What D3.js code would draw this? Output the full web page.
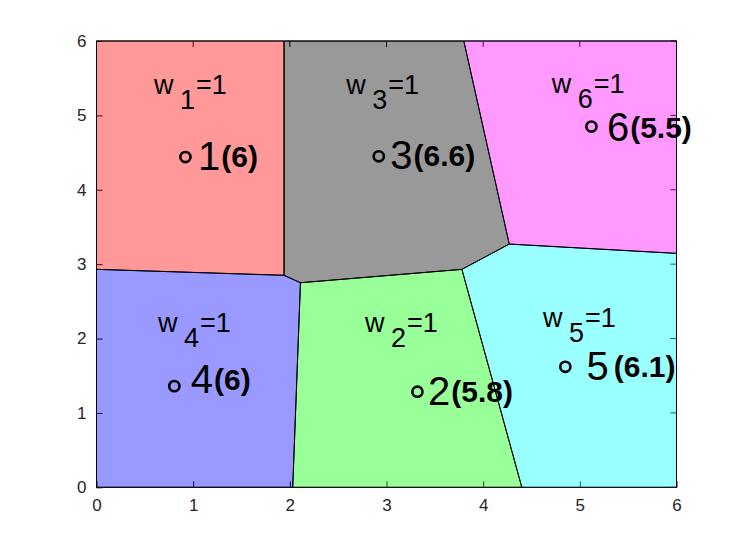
<!DOCTYPE html>
<html>
<head>
<meta charset="utf-8">
<script src="https://cdn.jsdelivr.net/npm/d3@7"></script>
<style>
  html, body { margin: 0; padding: 0; background: #fff; }
  svg { display: block; }
</style>
</head>
<body>
<svg id="chart" width="747" height="549"></svg>
<script>
// ---- data ----
const siteIds = [1, 2, 3, 4, 5, 6];
const siteX = [0.92, 3.32, 2.92, 0.805, 4.85, 5.12];
const siteY = [4.44, 1.285, 4.45, 1.36, 1.62, 4.85];
const weights = [1, 1, 1, 1, 1, 1];
const scores = ["6", "5.8", "6.6", "6", "6.1", "5.5"];
const cellColors = ["#ff0000", "#00ff00", "#000000", "#0000ff", "#00ffff", "#ff00ff"];
// cell polygons (data units), one per site
const cell1 = [[0, 6], [1.94, 6], [1.94, 2.85], [0, 2.93]];
const cell2 = [[2.11, 2.75], [3.78, 2.93], [4.40, 0], [2.03, 0]];
const cell3 = [[1.94, 6], [3.80, 6], [4.27, 3.27], [3.78, 2.93], [2.11, 2.75], [1.94, 2.85]];
const cell4 = [[0, 2.93], [1.94, 2.85], [2.11, 2.75], [2.03, 0], [0, 0]];
const cell5 = [[3.78, 2.93], [4.27, 3.27], [6, 3.145], [6, 0], [4.40, 0]];
const cell6 = [[3.80, 6], [6, 6], [6, 3.145], [4.27, 3.27]];
const cells = [cell1, cell2, cell3, cell4, cell5, cell6];
// annotation anchors (data units)
const wLabelX = [0.595, 2.778, 2.584, 0.637, 4.619, 4.71];
const wLabelY = [5.286, 2.091, 5.286, 2.083, 2.15, 5.296];
const numLabelX = [1.05, 3.43, 3.04, 0.975, 5.07, 5.28];
const numLabelY = [4.27, 1.11, 4.28, 1.27, 1.44, 4.65];
const xTicks = [0, 1, 2, 3, 4, 5, 6];
const yTicks = [0, 1, 2, 3, 4, 5, 6];

// ---- layout ----
const svg = d3.select("#chart");
const x = d3.scaleLinear().domain([0, 6]).range([96.5, 676.5]);
const y = d3.scaleLinear().domain([0, 6]).range([487.3, 41]);
const font = "'Liberation Sans', Arial, Helvetica, sans-serif";

// axes (drawn under the translucent cells, like the original)
const xAxis = d3.axisBottom(x).tickValues(xTicks).tickFormat(d3.format("d")).tickSizeInner(-6).tickSizeOuter(0).tickPadding(12);
const yAxis = d3.axisLeft(y).tickValues(yTicks).tickFormat(d3.format("d")).tickSizeInner(-6).tickSizeOuter(0).tickPadding(10);
const gx = svg.append("g").attr("transform", `translate(0,${y(0)})`).call(xAxis);
const gy = svg.append("g").attr("transform", `translate(${x(0)},0)`).call(yAxis);
[gx, gy].forEach(g => {
  g.select(".domain").remove();
  g.selectAll(".tick line").attr("stroke", "#000").attr("stroke-width", 1);
  g.selectAll(".tick text").attr("fill", "#262626").attr("font-family", font).attr("font-size", 17);
});
// top/right ticks mirrored
svg.append("g").selectAll("line").data(xTicks).join("line")
  .attr("x1", d => x(d)).attr("x2", d => x(d)).attr("y1", y(6)).attr("y2", y(6) + 6).attr("stroke", "#000");
svg.append("g").selectAll("line").data(yTicks).join("line")
  .attr("x1", x(6)).attr("x2", x(6) - 6).attr("y1", d => y(d)).attr("y2", d => y(d)).attr("stroke", "#000");
// box
svg.append("rect").attr("x", x(0)).attr("y", y(6)).attr("width", x(6) - x(0)).attr("height", y(0) - y(6))
  .attr("fill", "none").attr("stroke", "#262626").attr("stroke-width", 1);

// cells
const line = d3.line().x(d => x(d[0])).y(d => y(d[1])).curve(d3.curveLinearClosed);
svg.append("g").selectAll("path").data(cells).join("path")
  .attr("d", d => line(d))
  .attr("fill", (d, i) => cellColors[i]).attr("fill-opacity", 0.4)
  .attr("stroke", "#000").attr("stroke-width", 1).attr("stroke-linejoin", "round");

// sites
svg.append("g").selectAll("circle").data(siteIds).join("circle")
  .attr("cx", (d, i) => x(siteX[i])).attr("cy", (d, i) => y(siteY[i])).attr("r", 5.1)
  .attr("fill", "none").attr("stroke", "#000").attr("stroke-width", 2.6);

// number labels
const nl = svg.append("g").selectAll("text").data(siteIds).join("text")
  .attr("x", (d, i) => x(numLabelX[i])).attr("y", (d, i) => y(numLabelY[i]))
  .attr("font-family", font).attr("fill", "#000");
nl.append("tspan").attr("font-size", 40).text(d => d);
nl.append("tspan").attr("font-size", 30).attr("font-weight", "bold").attr("dx", (d, i) => i === 4 ? 5 : 1).attr("dy", -3)
  .text((d, i) => "(" + scores[i] + ")");

// weight labels
const wl = svg.append("g").selectAll("text").data(siteIds).join("text")
  .attr("x", (d, i) => x(wLabelX[i])).attr("y", (d, i) => y(wLabelY[i]))
  .attr("font-family", font).attr("font-size", 27).attr("fill", "#000");
wl.append("tspan").text("w");
wl.append("tspan").attr("x", (d, i) => x(wLabelX[i]) + 26).attr("dy", 15).text(d => d);
wl.append("tspan").attr("x", (d, i) => x(wLabelX[i]) + 42).attr("dy", -15).text((d, i) => "=" + weights[i]);
</script>
</body>
</html>
